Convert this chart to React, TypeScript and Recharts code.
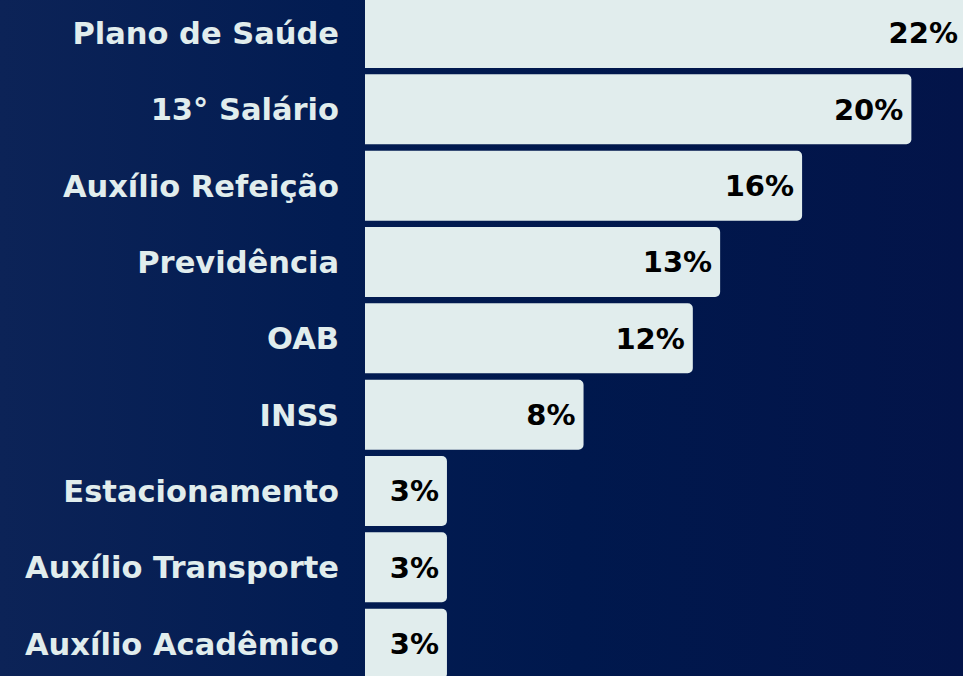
import React from "react";
import { BarChart, Bar, XAxis, YAxis, LabelList } from "recharts";

const categories = [
  "Plano de Saúde",
  "13° Salário",
  "Auxílio Refeição",
  "Previdência",
  "OAB",
  "INSS",
  "Estacionamento",
  "Auxílio Transporte",
  "Auxílio Acadêmico",
];
const values = [22, 20, 16, 13, 12, 8, 3, 3, 3];

const data = categories.map((name, i) => ({ name, value: values[i] }));

const FONT = "'DejaVu Sans', sans-serif";

export default function App() {
  return (
    <div
      style={{
        position: "fixed",
        left: 0,
        top: 0,
        width: 963,
        height: 676,
        overflow: "hidden",
        background:
          "linear-gradient(90deg, #0c2357 0%, #021c52 35%, #00184d 60%, #031449 100%)",
      }}
    >
      <div style={{ position: "absolute", left: 0, top: -5 }}>
        <BarChart
          width={966}
          height={687}
          data={data}
          layout="vertical"
          margin={{ top: 0, right: 0, bottom: 0, left: 0 }}
          barCategoryGap={3}
        >
          <XAxis type="number" domain={[0, 22]} hide />
          <YAxis
            type="category"
            dataKey="name"
            width={365}
            axisLine={false}
            tickLine={false}
            tickSize={0}
            tickMargin={26}
            tick={{
              fill: "#e1eded",
              fontSize: 30.5,
              fontWeight: 700,
              fontFamily: FONT,
            }}
          />
          <Bar
            dataKey="value"
            fill="#e1eded"
            radius={[0, 5, 5, 0]}
            barSize={70}
            isAnimationActive={false}
          >
            <LabelList
              dataKey="value"
              position="insideRight"
              offset={8}
              formatter={(v: number) => `${v}%`}
              style={{
                fill: "#000000",
                fontSize: 29,
                fontWeight: 700,
                fontFamily: FONT,
              }}
            />
          </Bar>
        </BarChart>
      </div>
    </div>
  );
}
